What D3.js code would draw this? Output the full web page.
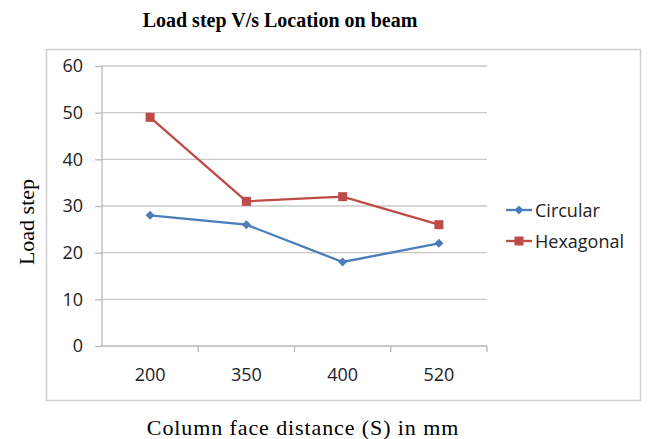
<!DOCTYPE html>
<html>
<head>
<meta charset="utf-8">
<script src="https://cdn.jsdelivr.net/npm/d3@7"></script>
<style>
  body { margin: 0; background: #fff; }
  svg { display: block; }
</style>
</head>
<body>
<div id="chart"></div>
<script>
var svgWidth = 648;
var svgHeight = 439;

// chart data
var categories = ["200", "350", "400", "520"];
var circular = [28, 26, 18, 22];
var hexagonal = [49, 31, 32, 26];
var yTicks = [0, 10, 20, 30, 40, 50, 60];

var margin = { top: 66, right: 161, bottom: 93, left: 102 };
var width = svgWidth - margin.left - margin.right;
var height = svgHeight - margin.top - margin.bottom;

var svg = d3.select("#chart")
  .append("svg")
  .attr("width", svgWidth)
  .attr("height", svgHeight);

// outer chart frame
svg.append("rect")
  .attr("x", 46.5)
  .attr("y", 49.5)
  .attr("width", 594)
  .attr("height", 351)
  .attr("fill", "none")
  .attr("stroke", "#cfcfcf")
  .attr("stroke-width", 1.5);

svg.append("text")
  .attr("x", 280)
  .attr("y", 27)
  .attr("text-anchor", "middle")
  .attr("font-family", "Liberation Serif, serif")
  .attr("font-weight", "bold")
  .attr("font-size", 20)
  .text("Load step V/s Location on beam");

var chartGroup = svg.append("g")
  .attr("transform", `translate(${margin.left}, ${margin.top})`);

var xScale = d3.scaleBand()
  .domain(categories)
  .range([0, width]);

var yScale = d3.scaleLinear()
  .domain([0, 60])
  .range([height, 0]);

// gridlines
chartGroup.append("g")
  .selectAll("line")
  .data(yTicks.filter(d => d > 0))
  .enter()
  .append("line")
  .attr("x1", 0)
  .attr("x2", width)
  .attr("y1", d => yScale(d))
  .attr("y2", d => yScale(d))
  .attr("stroke", "#c8c8c8")
  .attr("stroke-width", 1.3);

// y axis
var leftAxis = d3.axisLeft(yScale).tickValues(yTicks).tickSize(7).tickPadding(12);
var yAxis = chartGroup.append("g").call(leftAxis);
yAxis.select(".domain").attr("stroke", "#b8b8b8").attr("stroke-width", 1.3)
  .attr("d", `M0,${height}V0`);
yAxis.selectAll(".tick line").attr("stroke", "#b8b8b8").attr("stroke-width", 1.3);
yAxis.selectAll(".tick text")
  .attr("font-family", "Open Sans, sans-serif")
  .attr("font-size", 18)
  .attr("fill", "#222");

// x axis
var bottomAxis = d3.axisBottom(xScale).tickSize(0).tickPadding(22);
var xAxis = chartGroup.append("g")
  .attr("transform", `translate(0, ${height})`)
  .call(bottomAxis);
xAxis.select(".domain").attr("stroke", "#b8b8b8").attr("stroke-width", 1.3)
  .attr("d", `M0,0H${width}`);
xAxis.selectAll(".tick text")
  .attr("font-family", "Open Sans, sans-serif")
  .attr("font-size", 18)
  .attr("fill", "#222");

// category boundary ticks
xAxis.selectAll(".bound")
  .data(categories.slice(1).concat(["end"]))
  .enter()
  .append("line")
  .attr("x1", (d, i) => xScale.step() * (i + 1))
  .attr("x2", (d, i) => xScale.step() * (i + 1))
  .attr("y1", 0)
  .attr("y2", 6)
  .attr("stroke", "#b8b8b8")
  .attr("stroke-width", 1.3);

var series = [
  { name: "Circular", values: circular, color: "#4a7ebb", marker: "diamond" },
  { name: "Hexagonal", values: hexagonal, color: "#be4b48", marker: "square" }
];

var line = d3.line()
  .x((d, i) => xScale(categories[i]) + xScale.bandwidth() / 2)
  .y(d => yScale(d));

function drawMarker(g, type, color) {
  if (type === "diamond") {
    g.append("path")
      .attr("d", "M0,-4.5L4.5,0L0,4.5L-4.5,0Z")
      .attr("fill", color);
  } else {
    g.append("rect")
      .attr("x", -4.5).attr("y", -4.5)
      .attr("width", 9).attr("height", 9)
      .attr("fill", color);
  }
}

series.forEach(function(s) {
  chartGroup.append("path")
    .datum(s.values)
    .attr("fill", "none")
    .attr("stroke", s.color)
    .attr("stroke-width", 2.3)
    .attr("d", line);

  s.values.forEach(function(v, i) {
    var g = chartGroup.append("g")
      .attr("transform", `translate(${xScale(categories[i]) + xScale.bandwidth() / 2}, ${yScale(v)})`);
    drawMarker(g, s.marker, s.color);
  });
});

// legend
var legend = svg.append("g").attr("transform", "translate(506, 210)");
series.forEach(function(s, i) {
  var row = legend.append("g").attr("transform", `translate(0, ${i * 31})`);
  row.append("line")
    .attr("x1", 0).attr("x2", 26)
    .attr("stroke", s.color)
    .attr("stroke-width", 2.3);
  var m = row.append("g").attr("transform", "translate(13, 0)");
  drawMarker(m, s.marker, s.color);
  row.append("text")
    .attr("x", 29)
    .attr("y", 6.5)
    .attr("font-family", "Open Sans, sans-serif")
    .attr("font-size", 18)
    .attr("fill", "#222")
    .text(s.name);
});

// axis titles
svg.append("text")
  .attr("transform", "translate(34, 222) rotate(-90)")
  .attr("text-anchor", "middle")
  .attr("font-family", "Liberation Serif, serif")
  .attr("font-size", 22)
  .text("Load step");

svg.append("text")
  .attr("x", 303)
  .attr("y", 435)
  .attr("text-anchor", "middle")
  .attr("font-family", "Liberation Serif, serif")
  .attr("font-size", 22)
  .attr("letter-spacing", 0.9)
  .text("Column face distance (S) in mm");
</script>
</body>
</html>
